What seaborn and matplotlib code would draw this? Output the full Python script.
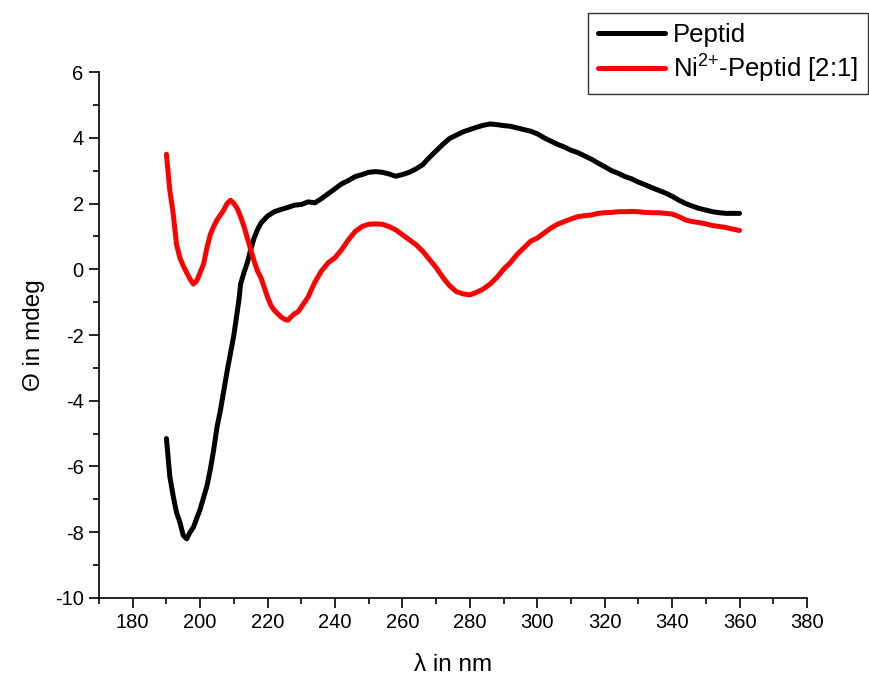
import numpy as np
import pandas as pd
import matplotlib
matplotlib.use('Agg')
import matplotlib.pyplot as plt
import seaborn as sns
from matplotlib.ticker import MultipleLocator

## CD spectra
wl_peptid = [190, 191, 192, 193, 194, 195, 196, 197, 198, 200, 202, 203, 204, 205, 206,
             208, 210, 211.5, 212, 213, 214, 215, 216, 217, 218, 220, 222, 224, 226, 228,
             230, 232, 234, 236, 238, 240, 242, 244, 246, 248, 250, 252, 254, 256, 258,
             260, 262, 264, 266, 268, 270, 272, 274, 276, 278, 280, 282, 284, 286, 288,
             290, 292, 294, 296, 298, 300, 302, 304, 306, 308, 310, 312, 314, 316, 318,
             320, 322, 324, 326, 328, 330, 332, 334, 336, 338, 340, 342, 344, 346, 348,
             350, 352, 354, 356, 358, 360]
theta_peptid = [-5.15, -6.3, -6.9, -7.4, -7.7, -8.1, -8.2, -8.0, -7.85, -7.3, -6.6, -6.1, -5.5, -4.8, -4.3,
                -3.1, -2.0, -0.94, -0.45, -0.1, 0.2, 0.6, 0.95, 1.2, 1.4, 1.62, 1.75, 1.82, 1.88, 1.95,
                1.97, 2.05, 2.02, 2.15, 2.3, 2.45, 2.6, 2.7, 2.82, 2.88, 2.95, 2.97, 2.95, 2.9, 2.83,
                2.88, 2.95, 3.05, 3.18, 3.4, 3.6, 3.8, 3.98, 4.08, 4.18, 4.25, 4.32, 4.38, 4.42, 4.4,
                4.37, 4.35, 4.3, 4.25, 4.2, 4.12, 4.0, 3.9, 3.8, 3.72, 3.62, 3.55, 3.45, 3.35, 3.23,
                3.12, 3.0, 2.92, 2.82, 2.75, 2.65, 2.57, 2.48, 2.4, 2.32, 2.22, 2.1, 2.0, 1.92, 1.85,
                1.8, 1.75, 1.72, 1.7, 1.7, 1.7]

wl_ni = [190, 191, 192, 193, 194, 195, 196, 197, 198, 199, 200, 201, 202, 203, 204, 205, 206,
         207, 208, 209, 210, 211, 212, 213, 214, 215, 216, 217, 218, 219, 220, 221, 222, 223,
         224, 225, 226, 227, 228, 229, 230, 232, 234, 236, 238, 240, 242, 244, 246, 248, 250,
         252, 254, 256, 258, 260, 262, 264, 266, 268, 270, 272, 274, 276, 278, 280, 282, 284,
         286, 288, 290, 292, 294, 296, 298, 300, 302, 304, 306, 308, 310, 312, 314, 316, 318,
         320, 322, 324, 326, 328, 330, 332, 334, 336, 338, 340, 342, 344, 346, 348, 350, 352,
         354, 356, 358, 360]
theta_ni = [3.5, 2.4, 1.7, 0.75, 0.35, 0.1, -0.1, -0.3, -0.45, -0.35, -0.1, 0.15, 0.65, 1.05, 1.3, 1.5, 1.65,
            1.8, 2.0, 2.1, 2.0, 1.85, 1.6, 1.3, 0.95, 0.6, 0.25, -0.05, -0.25, -0.55, -0.85, -1.1, -1.25, -1.35,
            -1.45, -1.52, -1.55, -1.45, -1.35, -1.3, -1.15, -0.85, -0.4, -0.05, 0.2, 0.35, 0.6, 0.9, 1.15, 1.3, 1.37,
            1.38, 1.37, 1.3, 1.2, 1.05, 0.9, 0.75, 0.55, 0.3, 0.05, -0.25, -0.5, -0.68, -0.75, -0.78, -0.7, -0.6,
            -0.45, -0.25, 0.0, 0.2, 0.45, 0.65, 0.85, 0.95, 1.1, 1.25, 1.37, 1.45, 1.53, 1.6, 1.63, 1.65, 1.7,
            1.72, 1.73, 1.75, 1.75, 1.76, 1.75, 1.73, 1.72, 1.72, 1.7, 1.68, 1.6, 1.5, 1.45, 1.42, 1.38, 1.33,
            1.3, 1.27, 1.22, 1.18]

labels = ['Peptid', r'Ni$^{\mathrm{2{+}}}$-Peptid [2:1]']
colors = ['black', 'red']

df = pd.concat([
    pd.DataFrame({'wl': wl_peptid, 'theta': theta_peptid, 'probe': labels[0]}),
    pd.DataFrame({'wl': wl_ni, 'theta': theta_ni, 'probe': labels[1]}),
])

sns.set_style('ticks')
plt.rcParams['font.family'] = ['Liberation Sans', 'DejaVu Sans']
plt.rcParams['mathtext.fontset'] = 'custom'
plt.rcParams['mathtext.rm'] = 'Liberation Sans'
plt.rcParams['axes.unicode_minus'] = False
for key in ['text.color', 'axes.labelcolor', 'xtick.color', 'ytick.color']:
    plt.rcParams[key] = 'black'

fig = plt.figure(figsize=(8.7, 6.75), dpi=100)
ax = fig.add_axes([0.1138, 0.1141, 0.8138, 0.7792])

sns.lineplot(data=df, x='wl', y='theta', hue='probe', palette=colors,
             linewidth=3.6, ax=ax, sort=False, estimator=None)

ax.set_xlim(170, 380)
ax.set_ylim(-10, 6)
ax.xaxis.set_major_locator(MultipleLocator(20))
ax.xaxis.set_minor_locator(MultipleLocator(10))
ax.yaxis.set_major_locator(MultipleLocator(2))
ax.yaxis.set_minor_locator(MultipleLocator(1))
ax.tick_params(which='major', direction='out', length=7, width=1.2, pad=4, labelsize=14.5)
ax.tick_params(which='minor', direction='out', length=4, width=1.2)
ax.set_xticks(range(180, 381, 20))
for side in ['top', 'right']:
    ax.spines[side].set_visible(False)
for side in ['left', 'bottom']:
    ax.spines[side].set_linewidth(1.2)
    ax.spines[side].set_color('black')

ax.set_xlabel('λ in nm', fontsize=17.5, labelpad=16)
ax.set_ylabel('Θ in mdeg', fontsize=17.5, labelpad=7)

handles, labs = ax.get_legend_handles_labels()
leg = ax.legend(handles, labs, loc='upper right', bbox_to_anchor=(868 / 870, 1 - 13 / 675),
                bbox_transform=fig.transFigure, fontsize=18.5, frameon=True, fancybox=False,
                handlelength=2.6, handletextpad=0.3, borderpad=0.4, labelspacing=0.15,
                borderaxespad=0)
leg.get_frame().set_edgecolor('black')
leg.get_frame().set_linewidth(1.0)
for line in leg.get_lines():
    line.set_linewidth(3.6)

plt.savefig('out.png', dpi=100, facecolor='white')
